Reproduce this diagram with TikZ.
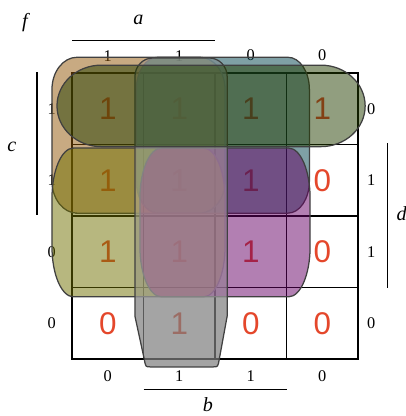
\documentclass[tikz,border=0pt]{standalone}
\usepackage{fontspec}
\setmainfont{Liberation Serif}
\newfontfamily\cellfont{Liberation Sans}
\usetikzlibrary{positioning}
\definecolor{digitred}{HTML}{E4472B}
\definecolor{grpbrown}{HTML}{915505}
\definecolor{grpteal}{HTML}{00414B}
\definecolor{grpolive}{HTML}{6F6F00}
\definecolor{grppurple}{HTML}{650065}
\definecolor{grprow}{HTML}{233D00}
% colour, x1, y1, x2, y2, corner x radius, corner y radius
\newcommand{\kgroup}[7]{%
  \draw[group, fill=#1] ({#2+#6},#3) -- ({#4-#6},#3)
    arc[start angle=-90, end angle=0, x radius=#6, y radius=#7] -- (#4,{#5-#7})
    arc[start angle=0, end angle=90, x radius=#6, y radius=#7] -- ({#2+#6},#5)
    arc[start angle=90, end angle=180, x radius=#6, y radius=#7] -- (#2,{#3+#7})
    arc[start angle=180, end angle=270, x radius=#6, y radius=#7] -- cycle;}
% the column group a b
\newcommand{\colshape}{(0.88,3.95)
    arc[start angle=180, end angle=90, x radius=0.25, y radius=0.26] -- (1.92,4.21)
    arc[start angle=90, end angle=0, x radius=0.25, y radius=0.26] -- (2.17,0.6)
    -- (2.06,0.0) .. controls (2.04,-0.11) .. (1.98,-0.11) -- (1.09,-0.11)
    .. controls (1.03,-0.11) .. (1.01,0.0) -- (0.88,0.6) -- cycle}

\begin{document}
\begin{tikzpicture}[
    cell/.style={draw, line width=0.5pt, minimum size=1cm, inner sep=0pt,
      outer sep=0pt, text=digitred, font=\cellfont\fontsize{12.5}{12.5}\selectfont},
    lbl/.style={inner sep=0pt, font=\fontsize{6.5}{6.5}\selectfont},
    var/.style={inner sep=0pt, font=\fontsize{8}{8}\selectfont\itshape},
    bar/.style={line width=0.45pt},
    group/.style={draw=black!75, line width=0.5pt, fill opacity=0.5},
    node distance=0pt
  ]
  \useasboundingbox (-1.007,-0.797) rectangle (4.671,5.021);

  \node[cell] (c11) at (0.5,3.5) {1};
  \node[cell, right=of c11] (c12) {1};
  \node[cell, right=of c12] (c13) {1};
  \node[cell, right=of c13] (c14) {1};
  \node[cell, below=of c11] (c21) {1};
  \node[cell, right=of c21] (c22) {1};
  \node[cell, right=of c22] (c23) {1};
  \node[cell, right=of c23] (c24) {0};
  \node[cell, below=of c21] (c31) {1};
  \node[cell, right=of c31] (c32) {1};
  \node[cell, right=of c32] (c33) {1};
  \node[cell, right=of c33] (c34) {0};
  \node[cell, below=of c31] (c41) {0};
  \node[cell, right=of c41] (c42) {1};
  \node[cell, right=of c42] (c43) {0};
  \node[cell, right=of c43] (c44) {0};

  \node[lbl, above=0.16cm of c11] (top1) {1};
  \node[lbl, above=0.16cm of c12] (top2) {1};
  \node[lbl, above=0.16cm of c13] (top3) {0};
  \node[lbl, above=0.16cm of c14] (top4) {0};
  \node[lbl, below=0.15cm of c41] (bot1) {0};
  \node[lbl, below=0.15cm of c42] (bot2) {1};
  \node[lbl, below=0.15cm of c43] (bot3) {1};
  \node[lbl, below=0.15cm of c44] (bot4) {0};
  \node[lbl, left=0.22cm of c11] (left1) {1};
  \node[lbl, left=0.22cm of c21] (left2) {1};
  \node[lbl, left=0.22cm of c31] (left3) {0};
  \node[lbl, left=0.22cm of c41] (left4) {0};
  \node[lbl, right=0.12cm of c14] (right1) {0};
  \node[lbl, right=0.12cm of c24] (right2) {1};
  \node[lbl, right=0.12cm of c34] (right3) {1};
  \node[lbl, right=0.12cm of c44] (right4) {0};

  \coordinate (abeg) at (0,4.46);
  \coordinate (aend) at (2,4.46);
  \coordinate (bbeg) at (1,-0.43);
  \coordinate (bend) at (3,-0.43);
  \coordinate (cbeg) at (-0.49,4.01);
  \coordinate (cend) at (-0.49,2.01);
  \coordinate (dbeg) at (4.41,3.02);
  \coordinate (dend) at (4.41,1.0);
  \draw[bar] (abeg) -- (aend);
  \draw[bar] (bbeg) -- (bend);
  \draw[bar] (cbeg) -- (cend);
  \draw[bar] (dbeg) -- (dend);
  \node[var] (avar) at (0.93,4.75) {a};
  \node[var] (bvar) at (1.9,-0.64) {b};
  \node[var] (cvar) at (-0.84,2.97) {c};
  \node[var] (dvar) at (4.61,2.03) {d};
  \node[var] (fvar) at (-0.66,4.71) {f};

  \fill[black, fill opacity=0.55] \colshape;
  \kgroup{grpbrown}{-0.28}{2.04}{2.14}{4.22}{0.35}{0.45}
  \kgroup{grpteal}{0.9}{2.04}{3.32}{4.22}{0.3}{0.45}
  \kgroup{grpolive}{-0.28}{0.87}{2.14}{2.95}{0.3}{0.7}
  \kgroup{grppurple}{0.95}{0.87}{3.33}{2.95}{0.3}{0.7}
  \draw[group, fill=white, fill opacity=0.35] \colshape;
  \kgroup{grprow}{-0.21}{2.97}{4.1}{4.11}{0.62}{0.57}
\end{tikzpicture}
\end{document}
